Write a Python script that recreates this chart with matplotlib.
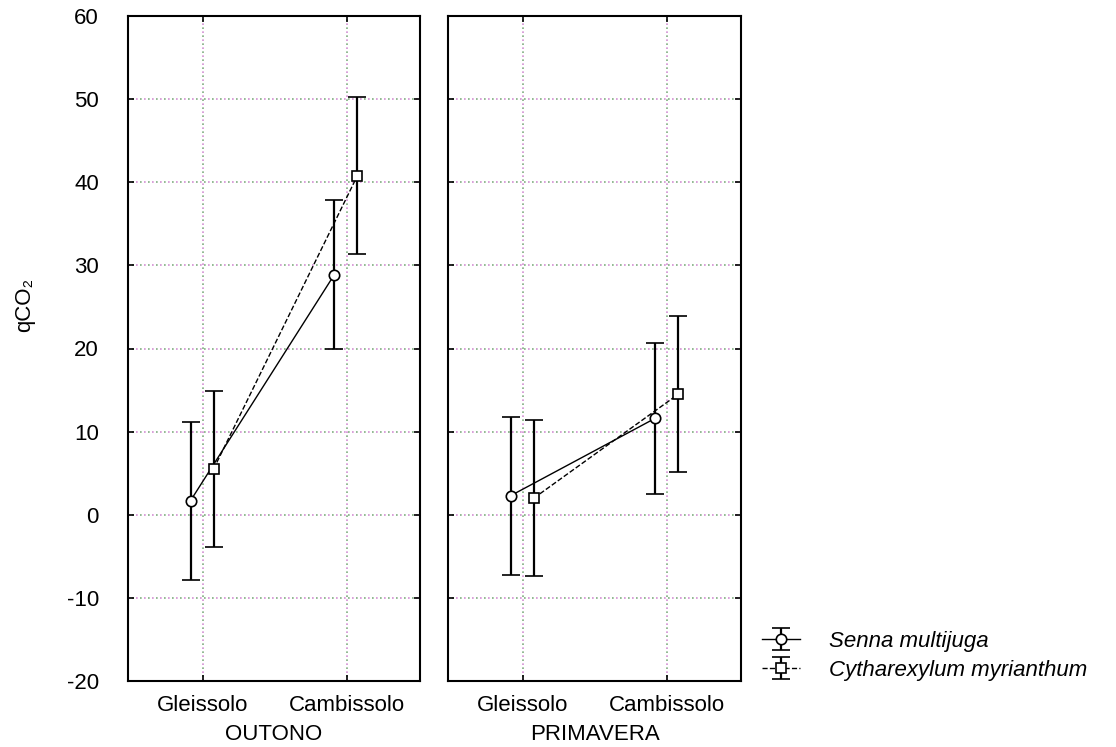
import matplotlib.pyplot as plt
import numpy as np

plt.rcParams['font.family'] = ['Liberation Sans', 'DejaVu Sans']
plt.rcParams['axes.unicode_minus'] = False

# dados
solos = ['Gleissolo', 'Cambissolo']
estacoes = ['OUTONO', 'PRIMAVERA']
especies = ['Senna multijuga', 'Cytharexylum myrianthum']

# media e erro (IC) por estacao, uma linha por especie
media = {
    'OUTONO':    [[1.7, 28.9], [5.5, 40.8]],
    'PRIMAVERA': [[2.3, 11.6], [2.0, 14.5]],
}
erro = {
    'OUTONO':    [[9.5, 9.0], [9.4, 9.4]],
    'PRIMAVERA': [[9.5, 9.1], [9.4, 9.4]],
}

yticks = np.arange(-20, 61, 10)
offsets = [-0.085, 0.075]
estilos = ['-', '--']
marcas = ['o', 's']
fs = 16

fig = plt.figure(figsize=(11.16, 7.47), dpi=100)
ax1 = fig.add_axes([128/1116, 66/747, 292/1116, 665/747])
ax2 = fig.add_axes([448/1116, 66/747, 293/1116, 665/747], sharey=ax1)

x = np.arange(len(solos))
handles = []
for ax, est in zip([ax1, ax2], estacoes):
    # grade pontilhada rosa/verde
    for yv in yticks:
        ax.axhline(yv, color='#d48fd4', lw=1.2, ls=(0, (1, 3.8)), zorder=0)
        ax.axhline(yv, color='#7fae7f', lw=1.2, ls=(2.4, (1, 3.8)), zorder=0)
    for xv in x:
        ax.axvline(xv, color='#d48fd4', lw=1.2, ls=(0, (1, 3.8)), zorder=0)
        ax.axvline(xv, color='#7fae7f', lw=1.2, ls=(2.4, (1, 3.8)), zorder=0)
    for i in range(len(especies)):
        eb = ax.errorbar(x + offsets[i], media[est][i], yerr=erro[est][i],
                         fmt=marcas[i], ls=estilos[i], color='black', lw=1,
                         ecolor='black', elinewidth=1.6, capsize=6.5, capthick=1.6,
                         markersize=7.5, markerfacecolor='white', markeredgecolor='black',
                         markeredgewidth=1.2, zorder=3)
        if est == 'OUTONO':
            handles.append(eb)
    ax.set_xlim(-0.52, 1.51)
    ax.set_xticks(x)
    ax.set_xticklabels(solos, fontsize=fs)
    ax.set_xlabel(est, fontsize=fs, labelpad=6)
    ax.tick_params(direction='in', length=4, top=True, right=True, width=1.2)
    ax.tick_params(axis='x', pad=10)
    for s in ax.spines.values():
        s.set_linewidth(1.5)

ax1.set_ylim(-20, 60)
ax1.set_yticks(yticks)
ax1.tick_params(axis='y', labelsize=fs, pad=21)
ax2.tick_params(axis='y', labelleft=False)
fig.text(25/1116, 1 - 305/747, 'qCO₂', rotation=90, ha='center', va='center', fontsize=fs)

leg = fig.legend(handles, especies, loc='upper left', bbox_to_anchor=(0.665, 0.182),
                 frameon=False, prop={'style': 'italic', 'size': fs},
                 handlelength=1.7, handletextpad=1.3, labelspacing=0.35)

plt.savefig('out.png', dpi=100)
